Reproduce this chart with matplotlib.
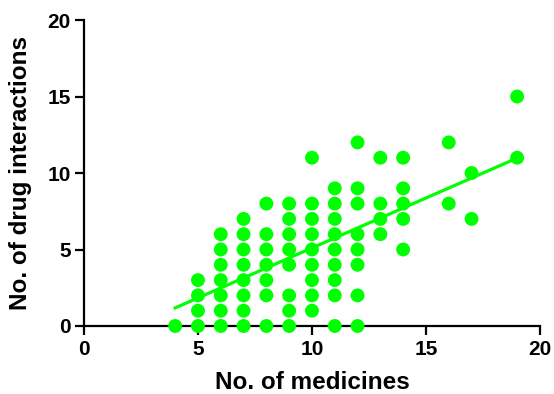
import matplotlib
matplotlib.use("Agg")
import numpy as np
import matplotlib.pyplot as plt

# DATA: number of medicines -> observed numbers of drug interactions
MEDICINES = [4, 5, 6, 7, 8, 9, 10, 11, 12, 13, 14, 16, 17, 19]
INTERACTIONS = [
    [0],
    [0, 1, 2, 3],
    [0, 1, 2, 3, 4, 5, 6],
    [0, 1, 2, 3, 4, 5, 6, 7],
    [0, 2, 3, 4, 5, 6, 8],
    [0, 1, 2, 4, 5, 6, 7, 8],
    [1, 2, 3, 4, 5, 6, 7, 8, 11],
    [0, 2, 3, 4, 5, 6, 7, 8, 9],
    [0, 2, 4, 5, 6, 8, 9, 12],
    [6, 7, 8, 11],
    [5, 7, 8, 9, 11],
    [8, 12],
    [7, 10],
    [11, 15],
]
# regression line
FIT_SLOPE = 0.653
FIT_INTERCEPT = -1.43
FIT_RANGE = [4, 19]

GREEN = "#00FF00"

plt.rcParams["font.family"] = ["Liberation Sans", "DejaVu Sans"]
plt.rcParams["font.weight"] = "bold"

x = np.concatenate([[m] * len(v) for m, v in zip(MEDICINES, INTERACTIONS)])
y = np.concatenate(INTERACTIONS)

fig = plt.figure(figsize=(5.54, 3.94), dpi=100)
ax = fig.add_axes([0.1516, 0.1726, 0.823, 0.7766])

xf = np.array(FIT_RANGE, dtype=float)
ax.plot(xf, FIT_INTERCEPT + FIT_SLOPE * xf, color=GREEN, lw=2.3, zorder=2)
ax.scatter(x, y, s=100, color=GREEN, edgecolors="none", zorder=3, clip_on=False)

ax.set_xlim(0, 20)
ax.set_ylim(0, 20)
ax.set_xticks([0, 5, 10, 15, 20])
ax.set_yticks([0, 5, 10, 15, 20])
for side in ("top", "right"):
    ax.spines[side].set_visible(False)
for side in ("left", "bottom"):
    ax.spines[side].set_linewidth(1.6)
ax.tick_params(direction="out", length=6.5, width=1.6, labelsize=15)
ax.tick_params(axis="y", pad=3)
ax.tick_params(axis="x", pad=3.5)
for lab in ax.get_xticklabels() + ax.get_yticklabels():
    lab.set_fontweight("bold")

ax.set_xlabel("No. of medicines", fontsize=17.5, fontweight="bold")
ax.set_ylabel("No. of drug interactions", fontsize=17.5, fontweight="bold")
ax.xaxis.set_label_coords(0.5, -0.148)
ax.yaxis.set_label_coords(-0.114, 0.5)

fig.savefig("out.png", dpi=100)
